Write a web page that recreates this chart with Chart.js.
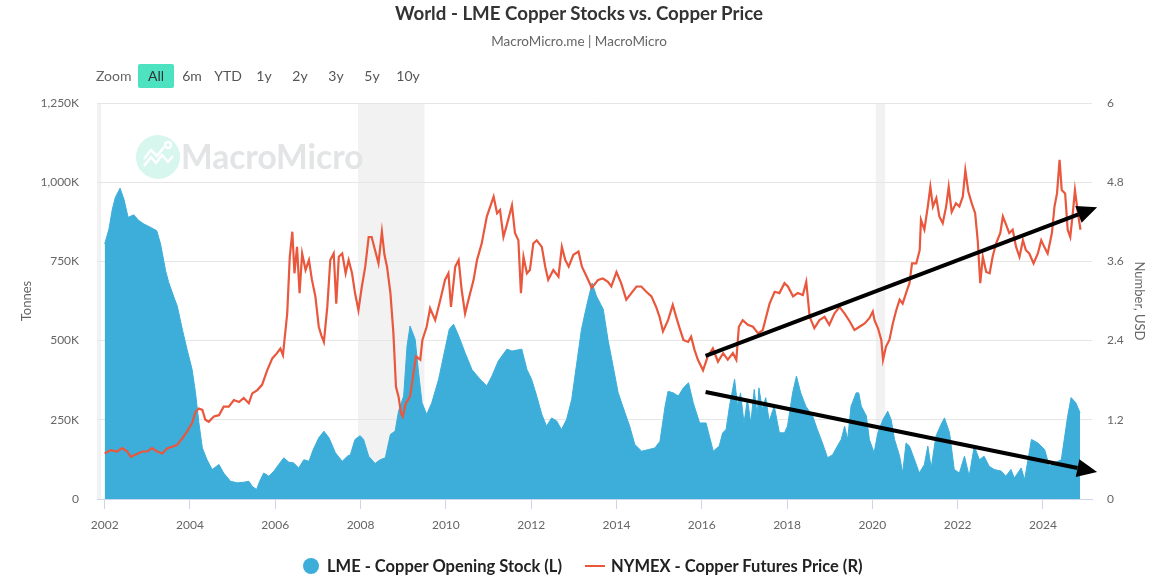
<!DOCTYPE html>
<html>
<head>
<meta charset="utf-8">
<script src="https://cdn.jsdelivr.net/npm/chart.js@4.4.1/dist/chart.umd.min.js"></script>
<style>
  body { margin: 0; background: #fff; font-family: Lato, "Open Sans", sans-serif; }
  #wrap { position: relative; width: 1158px; height: 576px; overflow: hidden; }
  #chart { position: absolute; left: 0; top: 0; }
  .title { position: absolute; left: 0; width: 1158px; top: 2px; text-align: center; font-weight: bold; font-size: 18.7px; line-height: 22px; color: #333; }
  .subtitle { position: absolute; left: 0; width: 1158px; top: 33px; text-align: center; font-size: 13.5px; line-height: 16px; color: #666; }
  .zoom { position: absolute; top: 64px; left: 96px; height: 24px; font-size: 14px; color: #666; }
  .zoom span { position: absolute; top: 0; line-height: 24px; white-space: nowrap; }
  .zoom .btn { width: 32px; text-align: center; margin-left: -16px; color: #555; }
  .zoom .on { background: #4de2c0; border-radius: 2px; color: #333; width: 36px; margin-left: -18px; }
  .legend { position: absolute; top: 556px; left: 0; width: 1158px; height: 20px; font-weight: bold; font-size: 16.5px; color: #222; }
  .legend span { position: absolute; top: 0; line-height: 20px; white-space: nowrap; }
</style>
</head>
<body>
<div id="wrap">
  <canvas id="chart" width="1158" height="576"></canvas>
  <div class="title">World - LME Copper Stocks vs. Copper Price</div>
  <div class="subtitle">MacroMicro.me | MacroMicro</div>
  <div class="zoom" id="zoom"></div>
  <div class="legend">
    <span style="left:303px;top:2px;width:16px;height:16px;border-radius:8px;background:#3caed9"></span>
    <span style="left:327px">LME - Copper Opening Stock (L)</span>
    <span style="left:585px;top:9px;width:20px;height:2px;background:#e9573d"></span>
    <span style="left:611px">NYMEX - Copper Futures Price (R)</span>
  </div>
</div>
<script>
// LME copper opening stock, thousand tonnes
const stockYears = [
  2002.00, 2002.10, 2002.18, 2002.25, 2002.36, 2002.45, 2002.55, 2002.68, 2002.80, 2002.92,
  2003.07, 2003.22, 2003.31, 2003.43, 2003.50, 2003.64, 2003.70, 2003.82, 2003.93,
  2004.05, 2004.13, 2004.21, 2004.29, 2004.40, 2004.52, 2004.68, 2004.79, 2004.95,
  2005.11, 2005.26, 2005.38, 2005.46, 2005.56, 2005.65, 2005.73, 2005.85, 2005.97,
  2006.08, 2006.20, 2006.32, 2006.43, 2006.55, 2006.67, 2006.79, 2006.89,
  2007.02, 2007.14, 2007.26, 2007.41, 2007.57, 2007.69, 2007.76, 2007.87, 2007.99,
  2008.07, 2008.19, 2008.34, 2008.46, 2008.58, 2008.70, 2008.81, 2008.89,
  2009.01, 2009.09, 2009.16, 2009.28, 2009.36, 2009.44, 2009.55, 2009.67, 2009.83, 2009.98,
  2010.08, 2010.18, 2010.30, 2010.45, 2010.61, 2010.80, 2010.96,
  2011.08, 2011.23, 2011.43, 2011.55, 2011.78, 2011.90,
  2012.01, 2012.13, 2012.25, 2012.36, 2012.48, 2012.60, 2012.71, 2012.83, 2012.95,
  2013.06, 2013.18, 2013.30, 2013.43, 2013.53, 2013.69, 2013.80, 2013.92,
  2014.04, 2014.20, 2014.31, 2014.43, 2014.59, 2014.75, 2014.90,
  2015.02, 2015.14, 2015.21, 2015.33, 2015.45, 2015.57, 2015.69, 2015.80, 2015.95,
  2016.10, 2016.18, 2016.27, 2016.41, 2016.49, 2016.57, 2016.65, 2016.77, 2016.84, 2016.91, 2016.99,
  2017.07, 2017.15, 2017.23, 2017.30, 2017.34, 2017.42, 2017.50, 2017.58, 2017.70, 2017.82, 2017.94,
  2018.01, 2018.13, 2018.22, 2018.32, 2018.44, 2018.60, 2018.71, 2018.83, 2018.95,
  2019.07, 2019.18, 2019.27, 2019.35, 2019.42, 2019.50, 2019.62, 2019.68, 2019.74, 2019.86, 2019.93,
  2020.04, 2020.13, 2020.25, 2020.36, 2020.44, 2020.52, 2020.64, 2020.71, 2020.79, 2020.87, 2020.99,
  2021.10, 2021.22, 2021.30, 2021.38, 2021.49, 2021.61, 2021.69, 2021.81, 2021.92,
  2022.04, 2022.16, 2022.27, 2022.39, 2022.51, 2022.62, 2022.74, 2022.86,
  2023.02, 2023.13, 2023.25, 2023.33, 2023.49, 2023.57, 2023.73, 2023.88,
  2024.04, 2024.15, 2024.27, 2024.43, 2024.50, 2024.58, 2024.66, 2024.77, 2024.87
];
const stockK = [
  805, 852, 915, 952, 981, 947, 889, 897, 879, 868,
  858, 847, 805, 720, 684, 631, 610, 536, 473,
  409, 335, 240, 161, 124, 93, 109, 82, 56,
  51, 53, 56, 40, 30, 61, 82, 72, 88,
  109, 130, 116, 114, 98, 124, 119, 156,
  193, 214, 193, 146, 119, 135, 140, 188, 200,
  188, 135, 112, 124, 130, 204, 214, 277,
  325, 483, 546, 504, 399, 304, 267, 304, 378, 473,
  536, 552, 515, 462, 409, 378, 357,
  388, 436, 473, 467, 473, 409,
  378, 325, 267, 230, 256, 246, 219, 251, 314,
  420, 536, 610, 682, 641, 599, 504, 420,
  335, 272, 230, 172, 151, 156, 161,
  182, 293, 340, 335, 325, 351, 367, 304, 240,
  240, 198, 151, 167, 209, 219, 293, 378, 293, 335, 240,
  314, 240, 346, 262, 351, 283, 320, 246, 293, 209, 209,
  230, 335, 388, 335, 293, 262, 219, 177, 130,
  140, 167, 188, 230, 188, 293, 335, 335, 293, 262, 188,
  146, 209, 251, 277, 251, 188, 135, 82, 177, 167, 124,
  82, 109, 167, 98, 198, 235, 256, 209, 93,
  82, 135, 72, 167, 124, 135, 103, 93,
  88, 72, 93, 66, 98, 61, 188, 177,
  156, 103, 114, 124, 188, 262, 320, 304, 272
];

// NYMEX copper futures, USD
const priceYears = [
  2002.00, 2002.14, 2002.29, 2002.41, 2002.53, 2002.61, 2002.72, 2002.88,
  2003.00, 2003.11, 2003.23, 2003.35, 2003.47, 2003.58, 2003.70, 2003.82, 2003.93,
  2004.05, 2004.13, 2004.21, 2004.29, 2004.36, 2004.44, 2004.56, 2004.68, 2004.79, 2004.91,
  2005.03, 2005.15, 2005.26, 2005.38, 2005.46, 2005.58, 2005.69, 2005.81, 2005.93,
  2006.04, 2006.12, 2006.18, 2006.28, 2006.34, 2006.40, 2006.45, 2006.51, 2006.57, 2006.63, 2006.71, 2006.79, 2006.86, 2006.94,
  2007.02, 2007.08, 2007.14, 2007.22, 2007.29, 2007.37, 2007.43, 2007.49, 2007.57, 2007.65, 2007.72, 2007.80, 2007.87, 2007.95,
  2008.03, 2008.11, 2008.19, 2008.26, 2008.34, 2008.42, 2008.50, 2008.56, 2008.62, 2008.70, 2008.77, 2008.83, 2008.89, 2008.95, 2008.99,
  2009.06, 2009.16, 2009.24, 2009.30, 2009.40, 2009.45, 2009.55, 2009.63, 2009.75, 2009.87, 2009.98,
  2010.06, 2010.12, 2010.22, 2010.30, 2010.37, 2010.45, 2010.55, 2010.65, 2010.73, 2010.84, 2010.96,
  2011.04, 2011.12, 2011.20, 2011.27, 2011.35, 2011.44, 2011.55, 2011.62, 2011.70, 2011.76, 2011.82, 2011.90, 2011.97,
  2012.05, 2012.13, 2012.25, 2012.33, 2012.40, 2012.52, 2012.64, 2012.72, 2012.80, 2012.88, 2012.99,
  2013.11, 2013.19, 2013.30, 2013.42, 2013.57, 2013.68, 2013.80, 2013.88,
  2014.00, 2014.11, 2014.23, 2014.35, 2014.47, 2014.58, 2014.70, 2014.82, 2014.93,
  2015.01, 2015.09, 2015.21, 2015.32, 2015.40, 2015.48, 2015.57, 2015.68, 2015.75, 2015.83, 2015.91,
  2016.03, 2016.14, 2016.26, 2016.38, 2016.50, 2016.61, 2016.73, 2016.81, 2016.87, 2016.96,
  2017.08, 2017.20, 2017.32, 2017.43, 2017.51, 2017.59, 2017.71, 2017.82, 2017.94,
  2018.02, 2018.14, 2018.25, 2018.37, 2018.45, 2018.53, 2018.64, 2018.76, 2018.88, 2018.99,
  2019.11, 2019.23, 2019.35, 2019.47, 2019.58, 2019.70, 2019.82, 2019.93,
  2020.01, 2020.05, 2020.13, 2020.21, 2020.25, 2020.32, 2020.40, 2020.48, 2020.56, 2020.64, 2020.71, 2020.79, 2020.87, 2020.93,
  2021.03, 2021.11, 2021.14, 2021.22, 2021.30, 2021.36, 2021.42, 2021.50, 2021.57, 2021.65, 2021.73, 2021.79, 2021.86, 2021.96,
  2022.04, 2022.12, 2022.18, 2022.25, 2022.33, 2022.41, 2022.47, 2022.53, 2022.59, 2022.67, 2022.75, 2022.82, 2022.90,
  2023.00, 2023.06, 2023.14, 2023.21, 2023.29, 2023.37, 2023.45, 2023.53, 2023.60, 2023.68, 2023.78, 2023.88, 2023.96,
  2024.03, 2024.11, 2024.21, 2024.27, 2024.33, 2024.39, 2024.44, 2024.52, 2024.58, 2024.64, 2024.70, 2024.75, 2024.82, 2024.88
];
const priceUsd = [
  0.69, 0.74, 0.72, 0.77, 0.72, 0.64, 0.67, 0.72,
  0.72, 0.77, 0.72, 0.69, 0.77, 0.79, 0.82, 0.92, 1.02,
  1.15, 1.32, 1.37, 1.35, 1.20, 1.17, 1.25, 1.27, 1.40, 1.40,
  1.50, 1.47, 1.53, 1.45, 1.60, 1.65, 1.73, 1.95, 2.13,
  2.21, 2.28, 2.18, 2.81, 3.67, 4.05, 3.42, 3.82, 3.12, 3.72, 3.47, 3.62, 3.32, 3.07,
  2.61, 2.48, 2.38, 2.91, 3.62, 3.72, 2.96, 3.67, 3.72, 3.42, 3.62, 3.42, 3.12, 2.86,
  3.22, 3.52, 3.97, 3.97, 3.77, 3.57, 4.05, 3.70, 3.52, 3.12, 2.51, 1.70, 1.55, 1.30, 1.25,
  1.45, 1.55, 1.90, 2.16, 2.11, 2.41, 2.61, 2.89, 2.71, 3.02, 3.32,
  3.42, 2.91, 3.52, 3.62, 3.17, 2.81, 3.07, 3.32, 3.62, 3.87, 4.28,
  4.43, 4.58, 4.33, 4.38, 3.97, 4.18, 4.45, 4.03, 3.92, 3.12, 3.67, 3.42, 3.47,
  3.87, 3.92, 3.82, 3.52, 3.32, 3.47, 3.37, 3.82, 3.62, 3.52, 3.70,
  3.75, 3.52, 3.37, 3.20, 3.32, 3.34, 3.29, 3.22,
  3.44, 3.27, 3.02, 3.12, 3.22, 3.22, 3.14, 3.07, 2.91,
  2.76, 2.54, 2.71, 2.94, 2.76, 2.59, 2.41, 2.38, 2.46, 2.26, 2.11,
  1.95, 2.16, 2.28, 2.08, 2.21, 2.11, 2.21, 2.11, 2.61, 2.71,
  2.64, 2.61, 2.51, 2.56, 2.76, 2.96, 3.14, 3.12, 3.27,
  3.22, 3.07, 3.12, 3.09, 3.29, 2.76, 2.59, 2.71, 2.76, 2.64,
  2.81, 2.91, 2.81, 2.69, 2.56, 2.61, 2.66, 2.74,
  2.84, 2.71, 2.59, 2.41, 2.11, 2.31, 2.41, 2.66, 2.86, 3.02, 2.96, 3.12, 3.27, 3.57,
  3.57, 3.77, 4.23, 4.08, 4.43, 4.73, 4.43, 4.56, 4.28, 4.18, 4.43, 4.73, 4.35, 4.48,
  4.43, 4.58, 4.98, 4.66, 4.48, 4.33, 3.92, 3.27, 3.67, 3.44, 3.42, 3.67, 3.87,
  4.03, 4.28, 4.15, 4.03, 4.08, 3.82, 3.67, 3.92, 3.77, 3.72, 3.57, 3.72, 3.92,
  3.82, 3.72, 4.03, 4.43, 4.63, 5.14, 4.68, 4.63, 4.08, 3.97, 4.33, 4.68, 4.33, 4.08
];

const yearTicks = [2002, 2004, 2006, 2008, 2010, 2012, 2014, 2016, 2018, 2020, 2022, 2024];
const stockTicks = [0, 250, 500, 750, 1000, 1250];
const priceTicks = [0, 1.2, 2.4, 3.6, 4.8, 6];
const zoomLabels = ['All', '6m', 'YTD', '1y', '2y', '3y', '5y', '10y'];

// recession shading, [from, to] in years
const recessions = [[2001.2, 2001.92], [2007.94, 2009.5], [2020.08, 2020.3]];

// trend arrows: [year, value] on the given axis
const arrows = [
  { axis: 'yR', from: [2016.09, 2.17], to: [2025.27, 4.42] },
  { axis: 'yL', from: [2016.09, 338], to: [2025.27, 85] }
];

const BLUE = '#3caed9';
const RED = '#e9573d';

// zoom buttons
const zoomBox = document.getElementById('zoom');
zoomBox.innerHTML = '<span style="left:0">Zoom</span>' +
  zoomLabels.map((z, i) => `<span class="btn${i === 0 ? ' on' : ''}" style="left:${60 + i * 36}px">${z}</span>`).join('');

const bgPlugin = {
  id: 'bg',
  beforeDraw(chart) {
    const { ctx, chartArea: a, scales } = chart;
    ctx.save();
    ctx.beginPath();
    ctx.rect(a.left, a.top, a.right - a.left, a.bottom - a.top);
    ctx.clip();
    ctx.fillStyle = '#f2f2f2';
    recessions.forEach(([s, e]) => {
      const x1 = scales.x.getPixelForValue(s);
      const x2 = scales.x.getPixelForValue(e);
      ctx.fillRect(x1, a.top, x2 - x1, a.bottom - a.top);
    });
    ctx.restore();

    // watermark
    ctx.save();
    ctx.fillStyle = '#d6f6ee';
    ctx.beginPath();
    ctx.arc(158, 157, 22, 0, Math.PI * 2);
    ctx.fill();
    ctx.strokeStyle = '#fff';
    ctx.lineWidth = 2.5;
    ctx.lineJoin = 'round';
    ctx.beginPath();
    ctx.moveTo(144, 166);
    ctx.lineTo(151, 157);
    ctx.lineTo(156, 163);
    ctx.lineTo(162, 155);
    ctx.lineTo(168, 162);
    ctx.lineTo(173, 156);
    ctx.stroke();
    ctx.beginPath();
    ctx.moveTo(144, 159);
    ctx.lineTo(151, 150);
    ctx.lineTo(157, 156);
    ctx.lineTo(164, 147);
    ctx.stroke();
    ctx.beginPath();
    ctx.arc(168, 145, 3, 0, Math.PI * 2);
    ctx.stroke();
    ctx.fillStyle = '#e3e4e5';
    ctx.font = 'bold 33.5px Lato, sans-serif';
    ctx.textBaseline = 'middle';
    ctx.fillText('MacroMicro', 181, 158);
    ctx.restore();
  },
  afterDatasetsDraw(chart) {
    const { ctx, scales } = chart;
    ctx.save();
    ctx.strokeStyle = '#000';
    ctx.fillStyle = '#000';
    ctx.lineWidth = 4;
    arrows.forEach(ar => {
      const x1 = scales.x.getPixelForValue(ar.from[0]);
      const y1 = scales[ar.axis].getPixelForValue(ar.from[1]);
      const x2 = scales.x.getPixelForValue(ar.to[0]);
      const y2 = scales[ar.axis].getPixelForValue(ar.to[1]);
      const ang = Math.atan2(y2 - y1, x2 - x1);
      const len = 20, half = 9;
      const bx = x2 - len * Math.cos(ang), by = y2 - len * Math.sin(ang);
      ctx.beginPath();
      ctx.moveTo(x1, y1);
      ctx.lineTo(bx, by);
      ctx.stroke();
      ctx.beginPath();
      ctx.moveTo(x2, y2);
      ctx.lineTo(bx + half * Math.sin(ang), by - half * Math.cos(ang));
      ctx.lineTo(bx - half * Math.sin(ang), by + half * Math.cos(ang));
      ctx.closePath();
      ctx.fill();
    });
    ctx.restore();
  }
};

const tickFont = { family: 'Lato, sans-serif', size: 12 };

new Chart(document.getElementById('chart'), {
  type: 'line',
  data: {
    datasets: [
      {
        label: 'NYMEX - Copper Futures Price (R)',
        data: priceYears.map((x, i) => ({ x, y: priceUsd[i] })),
        yAxisID: 'yR',
        borderColor: RED,
        borderWidth: 2.2,
        pointRadius: 0,
        fill: false,
        tension: 0,
        order: 1
      },
      {
        label: 'LME - Copper Opening Stock (L)',
        data: stockYears.map((x, i) => ({ x, y: stockK[i] })),
        yAxisID: 'yL',
        borderColor: BLUE,
        borderWidth: 1,
        backgroundColor: BLUE,
        pointRadius: 0,
        fill: 'origin',
        tension: 0,
        order: 2
      }
    ]
  },
  options: {
    responsive: false,
    animation: false,
    layout: { padding: { left: 0, right: 0, top: 103, bottom: 47 } },
    plugins: { legend: { display: false }, tooltip: { enabled: false } },
    scales: {
      x: {
        type: 'linear',
        min: 2001.82,
        max: 2025.15,
        afterBuildTicks: s => { s.ticks = yearTicks.map(v => ({ value: v })); },
        afterFit: s => { s.height = 30; },
        grid: { drawOnChartArea: false, drawTicks: true, tickLength: 10, color: '#ccd6eb' },
        border: { display: true, color: '#ccd6eb' },
        ticks: { color: '#666', font: tickFont, padding: 9, maxRotation: 0, callback: v => String(v) }
      },
      yL: {
        position: 'left',
        min: 0,
        max: 1250,
        afterBuildTicks: s => { s.ticks = stockTicks.map(v => ({ value: v })); },
        afterFit: s => { s.width = 97; },
        grid: { color: '#e6e6e6', drawTicks: false },
        border: { display: false },
        ticks: { color: '#666', font: tickFont, padding: 18, callback: v => v === 0 ? '0' : v.toLocaleString('en-US') + 'K' },
        title: { display: true, text: 'Tonnes', color: '#666', font: { family: 'Lato, sans-serif', size: 13 }, padding: { top: 19, bottom: 0 } }
      },
      yR: {
        position: 'right',
        min: 0,
        max: 6,
        afterBuildTicks: s => { s.ticks = priceTicks.map(v => ({ value: v })); },
        afterFit: s => { s.width = 66; },
        grid: { drawOnChartArea: false, drawTicks: false },
        border: { display: false },
        ticks: { color: '#666', font: tickFont, padding: 15, callback: v => String(Number(v.toFixed(1))) },
        title: { display: true, text: 'Number, USD', color: '#666', font: { family: 'Lato, sans-serif', size: 13 }, padding: { top: 11, bottom: 0 } }
      }
    }
  },
  plugins: [bgPlugin]
});
</script>
</body>
</html>
